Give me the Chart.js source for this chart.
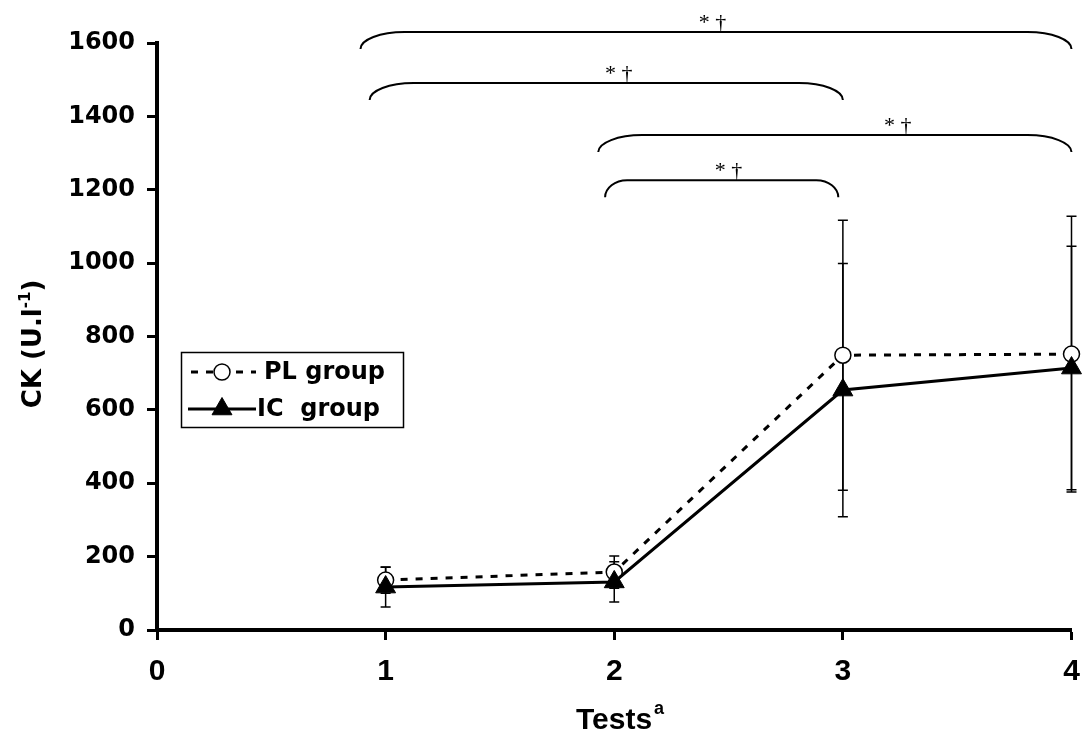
<!DOCTYPE html>
<html>
<head>
<meta charset="utf-8">
<script src="https://cdn.jsdelivr.net/npm/chart.js@4.4.1/dist/chart.umd.min.js"></script>
<style>
  html, body { margin: 0; padding: 0; background: #fff; }
  #wrap { width: 1084px; height: 733px; }
</style>
</head>
<body>
<div id="wrap"><canvas id="ckChart" width="1084" height="733"></canvas></div>
<script>
// test number (x) and CK means / SD per group
const tests = [1, 2, 3, 4];
const plMean = [136, 158, 749, 752];
const plSd = [36, 44, 368, 376];
const icMean = [117, 131, 654, 714];
const icSd = [54, 55, 345, 332];

const xTicks = [0, 1, 2, 3, 4];
const yTicks = [0, 200, 400, 600, 800, 1000, 1200, 1400, 1600];

// significance brackets: from test, to test, level (U.l-1), label position
const bracketFrom = [0.89, 0.93, 1.93, 1.96];
const bracketTo = [4.0, 3.0, 4.0, 2.98];
const bracketLevel = [1630, 1491, 1349, 1226];
const bracketLabelAt = [2.43, 2.02, 3.24, 2.5];
const bracketLabel = '* \u2020';

const cornerW = [44, 44, 44, 22];

// error bars drawn under the points
const errorBars = {
  id: 'errorBars',
  beforeDatasetsDraw(chart) {
    const ctx = chart.ctx;
    const xs = chart.scales.x, ys = chart.scales.y;
    ctx.save();
    ctx.strokeStyle = '#000';
    ctx.lineWidth = 1.5;
    chart.data.datasets.forEach(ds => {
      ds.data.forEach((p, i) => {
        const px = xs.getPixelForValue(p.x);
        const top = ys.getPixelForValue(p.y + ds.sd[i]);
        const bot = ys.getPixelForValue(p.y - ds.sd[i]);
        ctx.beginPath();
        ctx.moveTo(px, top); ctx.lineTo(px, bot);
        ctx.moveTo(px - 5, top); ctx.lineTo(px + 5, top);
        ctx.moveTo(px - 5, bot); ctx.lineTo(px + 5, bot);
        ctx.stroke();
      });
    });
    ctx.restore();
  }
};

// brackets, legend box and axis titles
const extras = {
  id: 'extras',
  afterDraw(chart) {
    const ctx = chart.ctx;
    const xs = chart.scales.x, ys = chart.scales.y;
    ctx.save();

    // brackets
    ctx.strokeStyle = '#000';
    ctx.lineWidth = 2;
    ctx.fillStyle = '#000';
    ctx.font = '22px "Liberation Serif", "Times New Roman", serif';
    ctx.textAlign = 'center';
    ctx.textBaseline = 'alphabetic';
    const k = 0.552, drop = 17;
    bracketFrom.forEach((f, i) => {
      const x0 = xs.getPixelForValue(f);
      const x1 = xs.getPixelForValue(bracketTo[i]);
      const yl = ys.getPixelForValue(bracketLevel[i]);
      const w = cornerW[i];
      ctx.beginPath();
      ctx.moveTo(x0, yl + drop);
      ctx.bezierCurveTo(x0, yl + drop * (1 - k), x0 + w * (1 - k), yl, x0 + w, yl);
      ctx.lineTo(x1 - w, yl);
      ctx.bezierCurveTo(x1 - w * (1 - k), yl, x1, yl + drop * (1 - k), x1, yl + drop);
      ctx.stroke();
      ctx.fillText(bracketLabel, xs.getPixelForValue(bracketLabelAt[i]), yl - 3);
    });

    // legend
    const pl = chart.data.datasets[0], ic = chart.data.datasets[1];
    ctx.lineWidth = 1.5;
    ctx.strokeRect(181.5, 352.5, 222, 75);
    const rows = [{ ds: pl, y: 372, text: 'PL group', tx: 264 }, { ds: ic, y: 409, text: 'IC  group', tx: 257 }];
    rows.forEach(r => {
      ctx.beginPath();
      ctx.lineWidth = r.ds.borderWidth;
      ctx.setLineDash(r.ds.borderDash || []);
      ctx.lineDashOffset = r.ds.borderDash ? -3 : 0;
      ctx.moveTo(188, r.y); ctx.lineTo(256, r.y);
      ctx.stroke();
      ctx.setLineDash([]);
      ctx.lineWidth = r.ds.pointBorderWidth;
      ctx.fillStyle = r.ds.pointBackgroundColor;
      ctx.strokeStyle = r.ds.pointBorderColor;
      Chart.helpers.drawPoint(ctx, {
        pointStyle: r.ds.pointStyle, radius: r.ds.pointRadius, borderWidth: r.ds.pointBorderWidth, rotation: 0
      }, 222, r.y);
      ctx.fillStyle = '#000';
      ctx.strokeStyle = '#000';
      ctx.font = 'bold 24px "DejaVu Sans", sans-serif';
      ctx.textAlign = 'left';
      ctx.textBaseline = 'middle';
      ctx.fillText(r.text, r.tx, r.y + 1);
    });

    // x title
    ctx.fillStyle = '#000';
    ctx.textBaseline = 'alphabetic';
    ctx.font = 'bold 30px "Liberation Sans", Arial, sans-serif';
    const t1 = 'Tests';
    const w1 = ctx.measureText(t1).width;
    ctx.font = 'bold 18px "Liberation Sans", Arial, sans-serif';
    const w2 = ctx.measureText('a').width;
    let sx = 620 - (w1 + w2 + 2) / 2;
    ctx.font = 'bold 30px "Liberation Sans", Arial, sans-serif';
    ctx.textAlign = 'left';
    ctx.fillText(t1, sx, 729);
    ctx.font = 'bold 18px "Liberation Sans", Arial, sans-serif';
    ctx.fillText('a', sx + w1 + 2, 714);

    // y title
    ctx.translate(41, 344);
    ctx.rotate(-Math.PI / 2);
    ctx.font = 'bold 26px "DejaVu Sans", sans-serif';
    const a = 'CK (U.l', c = ')';
    const wa = ctx.measureText(a).width, wc = ctx.measureText(c).width;
    ctx.font = 'bold 15px "DejaVu Sans", sans-serif';
    const wb = ctx.measureText('-1').width;
    let yx = -(wa + wb + wc) / 2;
    ctx.font = 'bold 26px "DejaVu Sans", sans-serif';
    ctx.fillText(a, yx, 0);
    ctx.font = 'bold 15px "DejaVu Sans", sans-serif';
    ctx.fillText('-1', yx + wa, -11);
    ctx.font = 'bold 26px "DejaVu Sans", sans-serif';
    ctx.fillText(c, yx + wa + wb, 0);

    ctx.restore();
  }
};

new Chart(document.getElementById('ckChart'), {
  type: 'line',
  data: {
    datasets: [
      {
        label: 'PL group',
        data: tests.map((t, i) => ({ x: t, y: plMean[i] })),
        sd: plSd,
        borderColor: '#000',
        borderWidth: 3,
        borderDash: [7, 8],
        pointStyle: 'circle',
        pointRadius: 8,
        pointBackgroundColor: '#fff',
        pointBorderColor: '#000',
        pointBorderWidth: 1.5,
        tension: 0,
        fill: false,
        order: 2
      },
      {
        label: 'IC group',
        data: tests.map((t, i) => ({ x: t, y: icMean[i] })),
        sd: icSd,
        borderColor: '#000',
        borderWidth: 3,
        pointStyle: 'triangle',
        pointRadius: 11.5,
        pointBackgroundColor: '#000',
        pointBorderColor: '#000',
        pointBorderWidth: 1,
        tension: 0,
        fill: false,
        order: 1
      }
    ]
  },
  options: {
    responsive: false,
    animation: false,
    clip: false,
    layout: { padding: { top: 43, right: 10, left: 0, bottom: 0 } },
    plugins: { legend: { display: false }, tooltip: { enabled: false } },
    scales: {
      x: {
        type: 'linear',
        min: 0,
        max: 4,
        afterBuildTicks: s => { s.ticks = xTicks.map(v => ({ value: v })); },
        afterFit: s => { s.height = 103; s.paddingLeft = 0; s.paddingRight = 0; },
        border: { display: true, color: '#000', width: 4 },
        grid: { display: true, drawOnChartArea: false, drawTicks: true, tickLength: 10, tickWidth: 3, tickColor: '#000' },
        ticks: {
          color: '#000',
          autoSkip: false,
          maxRotation: 0,
          padding: 14,
          callback: v => String(v),
          font: { family: '"Liberation Sans", Arial, sans-serif', weight: 'bold', size: 30 }
        }
      },
      y: {
        type: 'linear',
        min: 0,
        max: 1600,
        afterBuildTicks: s => { s.ticks = yTicks.map(v => ({ value: v })); },
        afterFit: s => { s.width = 157; s.paddingTop = 0; s.paddingBottom = 0; },
        border: { display: true, color: '#000', width: 4 },
        grid: { display: true, drawOnChartArea: false, drawTicks: true, tickLength: 10, tickWidth: 3, tickColor: '#000' },
        ticks: {
          color: '#000',
          padding: 12,
          callback: v => String(v),
          font: { family: '"DejaVu Sans", sans-serif', weight: 'bold', size: 24 }
        }
      }
    }
  },
  plugins: [errorBars, extras]
});
</script>
</body>
</html>
